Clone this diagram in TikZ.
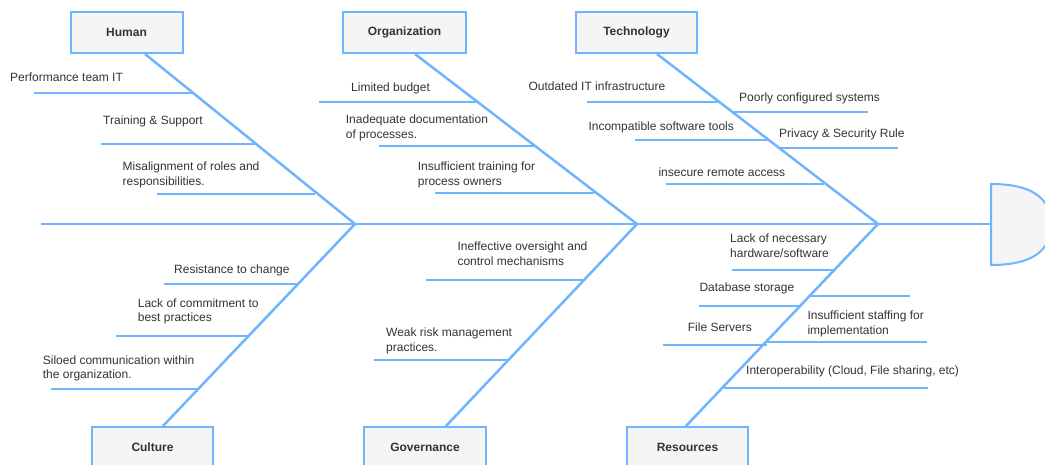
\documentclass[tikz,border=0pt]{standalone}
\usepackage{fontspec}
\setmainfont{Liberation Sans}
\usepackage{xcolor}
\definecolor{bone}{HTML}{6EB4FF}
\definecolor{boxfill}{HTML}{F5F5F5}
\definecolor{txt}{HTML}{333333}

\begin{document}
\begin{tikzpicture}[x=1pt, y=-1pt, font=\fontsize{12}{14.5}\selectfont, text=txt, category/.style={draw=bone, line width=2pt, fill=boxfill, minimum width=121pt, minimum height=41pt, inner sep=0pt, font=\fontsize{12}{14.5}\selectfont\bfseries}, cause/.style={anchor=base west, align=left, inner sep=0pt}, spine/.style={draw=bone, line width=2.5pt}, rib/.style={draw=bone, line width=2pt}]
\useasboundingbox (0,0) rectangle (1045,464);

% categories
\node [category, minimum width=112pt] (human) at (126.5,32.5) {Human};
\node [category, minimum width=123pt] (organization) at (404.5,32.5) {Organization};
\node [category] (technology) at (636.5,32.5) {Technology};
\node [category] (culture) at (152.5,447.5) {Culture};
\node [category, minimum width=122pt] (governance) at (425,447.5) {Governance};
\node [category] (resources) at (687.5,447.5) {Resources};

% spine and head
\coordinate (tail) at (41,224);
\coordinate (j1) at (355,224);
\coordinate (j2) at (637,224);
\coordinate (j3) at (878,224);
\coordinate (head) at (991,224);
\draw [draw=bone, line width=2pt, fill=boxfill] (991,184) .. controls (1031,184) and (1051,197.3) .. (1051,224.5) .. controls (1051,251.7) and (1031,265) .. (991,265) -- cycle;
\draw [spine] (tail) -- (head);

% bones
\draw [spine] ([xshift=18.5pt]human.south) -- (j1);
\draw [spine] ([xshift=10.5pt]organization.south) -- (j2);
\draw [spine] ([xshift=20.5pt]technology.south) -- (j3);
\draw [spine] ([xshift=10.5pt]culture.north) -- (j1);
\draw [spine] ([xshift=21pt]governance.north) -- (j2);
\draw [spine] ([xshift=-1.5pt]resources.north) -- (j3);

% ribs
\foreach \xa/\xb/\y in {34/192/93, 101/255/144, 157/315/194, 319/477/102, 379/535/146, 435/594/193, 587/719/102, 733/868/112, 635/769/140, 778/898/148, 666/824/184, 164/298/284, 116/249/336, 51/198/389, 426/584/280, 374/510/360, 732/834/270, 810/910/296, 699/800/306, 767/927/342, 663/767/345, 724/928/388}
  \draw [rib] (\xa,\y) -- (\xb,\y);

% causes (base = last line)
\node [cause] (perf) at (10,81) {Performance team IT};
\node [cause] (training) at (103,124) {Training \& Support};
\node [cause] (misalign) at (122.5,185.3) {Misalignment of roles and\\responsibilities.};
\node [cause] (budget) at (351,91) {Limited budget};
\node [cause] (documentation) at (345.7,138) {Inadequate documentation\\of processes.};
\node [cause] (owners) at (417.7,185.2) {Insufficient training for\\process owners};
\node [cause] (outdated) at (528.3,90) {Outdated IT infrastructure};
\node [cause] (configured) at (739,101) {Poorly configured systems};
\node [cause] (incompatible) at (588.3,130) {Incompatible software tools};
\node [cause] (privacy) at (779,137) {Privacy \& Security Rule};
\node [cause] (remote) at (658.3,176) {insecure remote access};
\node [cause] (resistance) at (174,273.3) {Resistance to change};
\node [cause] (commitment) at (137.7,321.7) {Lack of commitment to\\best practices};
\node [cause] (siloed) at (42.7,378.5) {Siloed communication within\\the organization.};
\node [cause] (oversight) at (457.3,265) {Ineffective oversight and\\control mechanisms};
\node [cause] (risk) at (386,351) {Weak risk management\\practices.};
\node [cause] (hardware) at (730,257) {Lack of necessary\\hardware/software};
\node [cause] (database) at (699.3,291.7) {Database storage};
\node [cause] (staffing) at (807.3,334) {Insufficient staffing for\\implementation};
\node [cause] (servers) at (687.7,331) {File Servers};
\node [cause] (interop) at (746,374.3) {Interoperability (Cloud, File sharing, etc)};
\end{tikzpicture}
\end{document}
